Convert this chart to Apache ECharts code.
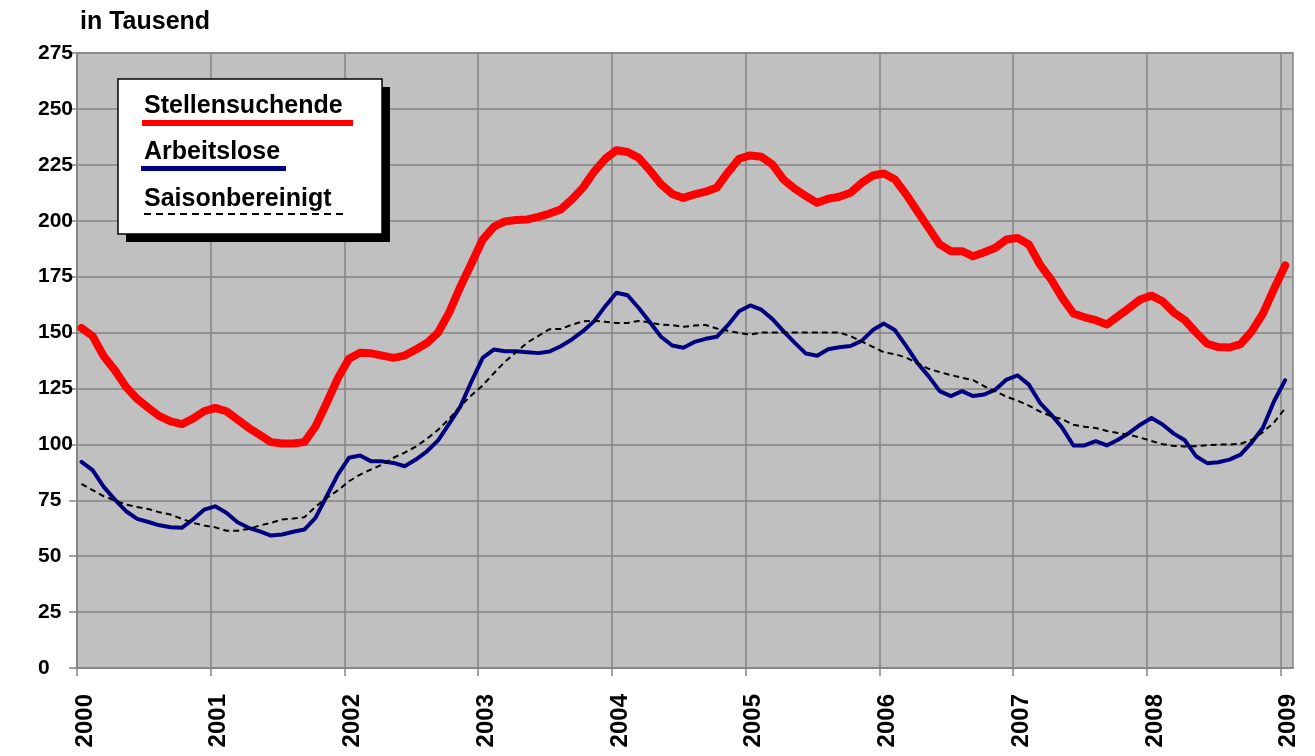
<!DOCTYPE html>
<html>
<head>
<meta charset="utf-8">
<script src="https://cdn.jsdelivr.net/npm/echarts@6/dist/echarts.min.js"></script>
<style>
html,body{margin:0;padding:0;background:#ffffff;}
#chart{width:1315px;height:756px;}
</style>
</head>
<body>
<div id="chart"></div>
<script>
// ---------- DATA ----------
const seriesNames = ['Stellensuchende', 'Arbeitslose', 'Saisonbereinigt'];
const unitLabel = 'in Tausend';
const yearLabels = ['2000','2001','2002','2003','2004','2005','2006','2007','2008','2009'];

// Monthly values (thousands), Jan 2000 .. Jan 2009
const stellensuchende = [
  152,148.4,139.4,133.1,125.7,120.3,116.3,112.6,110.3,109,
  111.5,114.8,116.3,114.8,111.1,107.4,104.2,101,100.4,100.4,
  101,108,118.5,129.5,138.3,141,140.7,139.7,138.7,139.7,
  142.4,145.3,150,159,170.5,181,191.6,197.3,199.7,200.3,
  200.6,201.7,203.2,205,209.5,214.8,222,227.7,231.5,230.7,
  228.1,222.5,216.3,212,210.2,211.8,213,214.8,221.6,227.7,
  229.2,228.6,225.1,218.4,214.3,211,208,209.8,210.7,212.5,
  216.9,220.2,221.1,218.4,211.7,204.2,196.8,189.4,186.4,186.4,
  184.1,185.9,187.9,191.6,192.3,189.4,180.4,173.7,165.5,158.5,
  156.8,155.5,153.6,157.3,161,164.8,166.5,164,159,155.5,
  150,145,143.5,143.3,144.8,150.5,158.5,169.5,180
];
const arbeitslose = [
  92.2,88.5,81,75.3,70.1,66.7,65.3,63.8,62.9,62.7,
  66.4,70.8,72.3,69.4,65.2,62.7,61.1,59.2,59.7,60.9,
  61.9,67.1,76.8,86.5,94,95,92.4,92.4,91.7,90.2,
  93.2,96.9,101.8,109.3,117,128.2,138.7,142.4,141.6,141.6,
  141.2,140.8,141.5,143.9,146.9,150.6,155.1,161.8,167.8,166.7,
  161,154.6,148.1,144.2,143.2,145.8,147.2,148.1,153.3,159.5,
  162.1,160.2,156,150.5,145.4,140.6,139.6,142.5,143.4,144,
  146.3,151.1,154,151,143.9,136.4,130.5,123.8,121.6,123.8,
  121.6,122.3,124.5,129,130.8,126.7,118.6,113.3,107.4,99.5,
  99.5,101.4,99.5,102.1,105.1,108.8,111.8,108.9,104.8,101.8,
  94.7,91.6,92,93.2,95.4,100.9,107.4,119.3,128.7
];
const saisonbereinigt = [
  82.3,79.5,76.8,74.9,73.1,72,71.1,69.6,68.6,66.7,
  64.9,63.7,62.9,61.4,61.4,62.2,63.7,64.9,66.4,66.8,
  67.4,72.1,76,79.4,83.5,86.5,88.8,91,94,96.3,
  99,102.5,106.5,111.5,117,122,126.4,131.8,137,141.2,
  145.5,148.5,151.5,151.6,153.5,155,155.3,154.8,154.3,154.3,
  155.2,154.5,153.5,153.3,152.6,153.1,153.4,151.8,150.8,149.8,
  149.1,150,150,150,150,150,150,150,150,148.4,
  146,143.6,141.2,140.3,138.8,136.3,133.8,132.3,131,129.8,
  128.7,126,123.7,121.3,119.5,117.3,114.7,112.6,111.2,108.8,
  107.9,107.3,106,105.1,104.3,103,101.5,100.1,99.3,99,
  99.2,99.6,99.9,99.9,100.3,102,105.5,109.8,116.1
];

// month categories
const months = [];
yearLabels.forEach(function (y) {
  for (let m = 1; m <= 12; m++) {
    if (y === '2009' && m > 1) break;
    months.push(y + '-' + (m < 10 ? '0' + m : m));
  }
});

// ---------- CHART ----------
const FONT = '"Liberation Sans", Arial, Helvetica, sans-serif';
const MID = 0.4; // points sit mid-month on the month-based axis
function pairs(vals) { return months.map(function (m, i) { return [i + MID, vals[i]]; }); }
const yearTicks = yearLabels.map(function (y, k) { return k * 12; });

const chart = echarts.init(document.getElementById('chart'), null, {renderer: 'canvas'});
chart.setOption({
  animation: false,
  backgroundColor: '#ffffff',
  grid: {
    left: 77, right: 22, top: 53, bottom: 88,
    show: true, backgroundColor: '#c0c0c0', borderColor: '#858585', borderWidth: 1.5,
    containLabel: false, outerBoundsMode: 'none'
  },
  xAxis: {
    type: 'value', min: 0, max: 109.1, interval: 12,
    axisLine: {show: true, lineStyle: {color: '#858585', width: 1.5}},
    axisTick: {show: true, length: 8, customValues: yearTicks, lineStyle: {color: '#858585', width: 1.5}},
    splitLine: {show: true, lineStyle: {color: '#858585', width: 1.5}},
    axisLabel: {
      customValues: yearTicks,
      rotate: 90, margin: 26, verticalAlign: 'top', lineHeight: 16,
      color: '#000', fontFamily: FONT, fontWeight: 'bold', fontSize: 24,
      formatter: function (v) { return yearLabels[Math.round(v / 12)]; }
    }
  },
  yAxis: {
    type: 'value', min: 0, max: 275, interval: 25,
    axisLine: {show: true, lineStyle: {color: '#858585', width: 1.5}},
    axisTick: {show: true, length: 8, lineStyle: {color: '#858585', width: 1.5}},
    splitLine: {show: true, lineStyle: {color: '#858585', width: 1.5}},
    axisLabel: {
      align: 'left', margin: 39,
      color: '#000', fontFamily: FONT, fontWeight: 'bold', fontSize: 21
    }
  },
  series: [
    {name: seriesNames[0], type: 'line', data: pairs(stellensuchende), showSymbol: false,
     lineStyle: {color: '#ff0000', width: 8, cap: 'round', join: 'round'}},
    {name: seriesNames[1], type: 'line', data: pairs(arbeitslose), showSymbol: false,
     lineStyle: {color: '#000080', width: 4, cap: 'round', join: 'round'}},
    {name: seriesNames[2], type: 'line', data: pairs(saisonbereinigt), showSymbol: false,
     lineStyle: {color: '#000000', width: 2, type: [6, 4]}}
  ],
  graphic: [
    {type: 'text', left: 80, top: 10,
     style: {text: unitLabel, font: 'bold 25px ' + FONT, fill: '#000'}},
    {type: 'rect', shape: {x: 126, y: 87, width: 264, height: 155}, z: 100,
     style: {fill: '#000000'}},
    {type: 'rect', shape: {x: 118, y: 79, width: 264, height: 155}, z: 101,
     style: {fill: '#ffffff', stroke: '#000', lineWidth: 1.5}},
    {type: 'text', x: 144, y: 106, z: 102,
     style: {text: seriesNames[0], font: 'bold 25px ' + FONT, fill: '#000', verticalAlign: 'middle'}},
    {type: 'line', shape: {x1: 142, y1: 123, x2: 353, y2: 123}, z: 102,
     style: {stroke: '#ff0000', lineWidth: 6}},
    {type: 'text', x: 144, y: 152.5, z: 102,
     style: {text: seriesNames[1], font: 'bold 25px ' + FONT, fill: '#000', verticalAlign: 'middle'}},
    {type: 'line', shape: {x1: 141, y1: 168.5, x2: 286, y2: 168.5}, z: 102,
     style: {stroke: '#000080', lineWidth: 5}},
    {type: 'text', x: 144, y: 199.5, z: 102,
     style: {text: seriesNames[2], font: 'bold 25px ' + FONT, fill: '#000', verticalAlign: 'middle'}},
    {type: 'line', shape: {x1: 144, y1: 214, x2: 345, y2: 214}, z: 102,
     style: {stroke: '#000', lineWidth: 2, lineDash: [7, 5]}}
  ]
});
</script>
</body>
</html>
